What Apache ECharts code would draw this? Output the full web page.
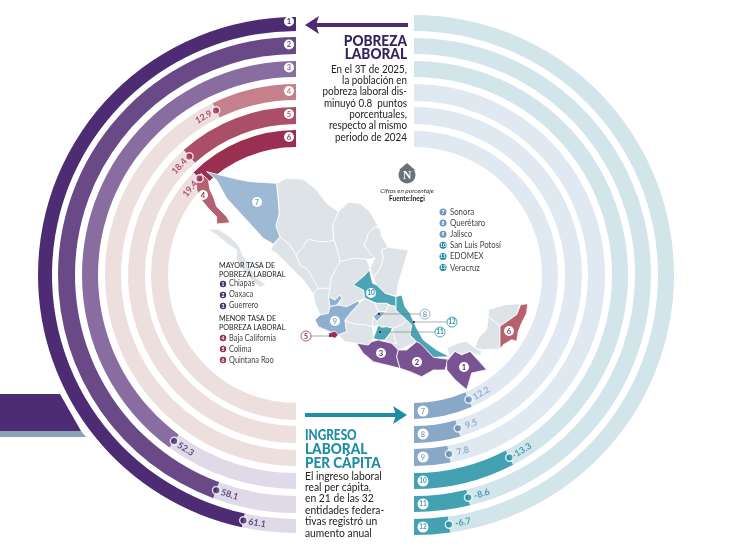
<!DOCTYPE html>
<html>
<head>
<meta charset="utf-8">
<title>Pobreza laboral</title>
<style>
html, body { margin: 0; padding: 0; background: #fff; }
#main { width: 750px; height: 546px; }
</style>
<script src="https://cdn.jsdelivr.net/npm/echarts@6/dist/echarts.min.js"></script>
</head>
<body>
<div id="main"></div>
<script>
// datos
var pobrezaRings = [1, 2, 3, 4, 5, 6];
var pobrezaValues = [61.1, 58.1, 52.3, 12.9, 18.4, 19.4];
var ingresoRings = [7, 8, 9, 10, 11, 12];
var ingresoValues = [12.2, 9.5, 7.8, -13.3, -8.6, -6.7];
var mayorEstados = ['Chiapas', 'Oaxaca', 'Guerrero'];
var menorEstados = ['Baja California', 'Colima', 'Quintana Roo'];
var ingresoEstados = ['Sonora', 'Querétaro', 'Jalisco', 'San Luis Potosí', 'EDOMEX', 'Veracruz'];
var pobrezaLines = ['En el 3T de 2025,', 'la población en', 'pobreza laboral dis-', 'minuyó 0.8  puntos', 'porcentuales,', 'respecto al mismo', 'periodo de 2024'];
var ingresoLines = ['El ingreso laboral', 'real per cápita,', 'en 21 de las 32', 'entidades federa-', 'tivas registró un', 'aumento anual'];

var FONT = 'Lato, "Open Sans", sans-serif';
var PURPLE = '#4d2c73', WINE = '#9a2f52', BLUE = '#6f97be', TEAL = '#1f8ea3', GRAY = '#dde3e7';

// cada anillo lleva su propia escala (valor que equivale a media vuelta)
var ringsLeft = {
  center: [296, 275], startAngle: 90,
  bands: [[244, 258], [221, 238], [198, 214], [175, 191], [151, 168], [128, 145]],
  halfMax: [65.5, 65.5, 65.5, 89.6, 78.9, 77.6],
  colors: ['#4d2c73', '#694a86', '#896da1', '#c5808c', '#ab4f68', '#9a2f52'],
  tracks: ['#e0d9e8', '#e0d9e8', '#e0d9e8', '#eedfdf', '#eedfdf', '#eedfdf'],
  dots: ['#3f2a6b', '#3f2a6b', '#3f2a6b', WINE, WINE, WINE],
  text: ['#3f2a6b', '#3f2a6b', '#3f2a6b', WINE, WINE, WINE]
};
var ringsRight = {
  center: [414, 275], startAngle: 270,
  bands: [[128, 144], [151, 168], [174, 191], [198, 214], [221, 237], [244, 260]],
  halfMax: [92.6, 106.9, 126.5, 86.7, 113, 150.7],
  colors: ['#89a7c7', '#89a7c7', '#89a7c7', '#43a1b2', '#43a1b2', '#43a1b2'],
  tracks: ['#e0e8f1', '#e0e8f1', '#e0e8f1', '#d2e5eb', '#d2e5eb', '#d2e5eb'],
  dots: ['#5f8bb5', '#5f8bb5', '#5f8bb5', TEAL, TEAL, TEAL],
  text: ['#7d9fc3', '#7d9fc3', '#7d9fc3', TEAL, TEAL, TEAL]
};

// contornos de los estados, trazados a mano sobre la imagen (x3, origen en 180,170)
var states = {
  'Baja California': [[57, 20], [63, 10], [85, 30], [90, 60], [100, 80], [110, 110], [140, 140], [150, 158], [110, 162], [110, 140], [85, 115], [65, 90], [50, 60], [50, 35]],
  'Baja California Sur': [[85, 178], [115, 178], [150, 200], [175, 225], [190, 260], [205, 280], [225, 320], [258, 345], [240, 352], [215, 330], [190, 300], [170, 270], [170, 240], [140, 220], [110, 195]],
  'Sonora': [[80, 5], [160, 25], [210, 35], [290, 40], [298, 130], [288, 168], [300, 200], [280, 222], [250, 205], [200, 150], [140, 85], [110, 30]],
  'Chihuahua': [[290, 40], [318, 25], [370, 28], [410, 60], [440, 100], [475, 125], [458, 165], [462, 210], [445, 215], [415, 215], [385, 208], [365, 235], [348, 255], [330, 225], [300, 200], [288, 168], [298, 130], [295, 80]],
  'Coahuila': [[475, 125], [505, 97], [540, 100], [570, 125], [595, 170], [585, 170], [565, 190], [560, 210], [552, 225], [570, 250], [585, 265], [560, 268], [525, 265], [500, 270], [480, 275], [472, 240], [462, 210], [458, 165]],
  'Nuevo León': [[585, 170], [600, 175], [605, 200], [625, 232], [605, 240], [610, 265], [600, 295], [580, 325], [570, 295], [585, 265], [570, 250], [552, 225], [560, 210], [565, 190]],
  'Tamaulipas': [[625, 232], [685, 240], [670, 290], [655, 340], [650, 378], [615, 370], [590, 345], [580, 325], [600, 295], [610, 265], [605, 240]],
  'Durango': [[348, 255], [365, 235], [385, 208], [415, 215], [445, 215], [462, 210], [472, 240], [480, 275], [465, 300], [452, 330], [450, 355], [415, 355], [400, 330], [385, 300], [360, 285]],
  'Sinaloa': [[300, 200], [330, 225], [348, 255], [360, 285], [385, 300], [415, 355], [400, 372], [370, 330], [330, 290], [290, 250], [272, 240], [280, 225]],
  'Zacatecas': [[480, 275], [500, 270], [525, 265], [560, 268], [570, 295], [568, 300], [555, 315], [520, 345], [550, 360], [555, 385], [538, 392], [500, 410], [475, 405], [485, 385], [480, 375], [465, 390], [445, 380], [450, 355], [452, 330], [465, 300]],
  'San Luis Potosí': [[568, 300], [555, 315], [520, 345], [550, 360], [555, 385], [590, 400], [620, 400], [635, 408], [648, 420], [648, 380], [615, 370], [590, 345], [578, 340]],
  'Aguascalientes': [[445, 380], [465, 390], [480, 375], [485, 385], [470, 405], [450, 410]],
  'Nayarit': [[400, 372], [415, 355], [450, 355], [445, 380], [450, 410], [445, 430], [420, 435], [405, 400]],
  'Jalisco': [[405, 450], [420, 435], [445, 430], [450, 410], [475, 405], [500, 410], [535, 392], [538, 400], [515, 425], [495, 450], [500, 485], [475, 495], [450, 485], [415, 470]],
  'Colima': [[445, 490], [465, 483], [475, 495], [465, 505], [450, 500]],
  'Michoacán': [[475, 495], [500, 485], [495, 450], [515, 460], [560, 465], [578, 470], [580, 505], [565, 525], [530, 520], [495, 515]],
  'Guanajuato': [[515, 425], [538, 400], [555, 385], [585, 400], [595, 425], [580, 440], [578, 470], [560, 465], [515, 460], [495, 450]],
  'Querétaro': [[580, 440], [595, 425], [618, 425], [600, 445], [590, 455]],
  'Tlaxcala': [[585, 400], [590, 400], [620, 400], [635, 408], [625, 405], [618, 425], [595, 425]],
  'Hidalgo': [[618, 425], [625, 405], [645, 408], [648, 420], [680, 450], [665, 465], [638, 475], [620, 470], [605, 472], [595, 465], [578, 470], [580, 440], [590, 455], [600, 445]],
  'México': [[580, 505], [595, 465], [605, 472], [620, 470], [638, 475], [630, 490], [615, 510], [595, 510]],
  'Morelos': [[615, 510], [630, 490], [638, 475], [640, 490], [650, 520], [635, 520], [615, 515]],
  'Puebla': [[680, 450], [695, 465], [690, 495], [710, 515], [670, 535], [655, 540], [635, 520], [650, 520], [640, 490], [638, 475], [665, 465]],
  'Veracruz': [[648, 380], [665, 375], [675, 410], [690, 430], [710, 475], [730, 510], [770, 540], [810, 560], [760, 562], [735, 535], [710, 515], [690, 495], [695, 465], [680, 450], [648, 420]],
  'Guerrero': [[530, 520], [565, 525], [575, 515], [595, 510], [615, 515], [635, 520], [655, 540], [650, 560], [660, 595], [620, 585], [580, 575], [550, 550]],
  'Oaxaca': [[655, 540], [680, 540], [710, 515], [720, 520], [735, 535], [760, 562], [805, 568], [795, 600], [760, 600], [725, 620], [690, 605], [660, 595], [650, 560]],
  'Chiapas': [[800, 574], [825, 544], [845, 554], [870, 544], [920, 599], [875, 609], [860, 659], [825, 629], [800, 599]],
  'Tabasco': [[800, 534], [835, 519], [860, 514], [885, 534], [905, 544], [900, 559], [870, 544], [845, 554], [825, 544], [810, 559]],
  'Campeche': [[925, 439], [960, 469], [960, 537], [905, 539], [885, 534], [895, 504], [920, 479]],
  'Yucatán': [[925, 419], [975, 404], [1020, 401], [1010, 434], [960, 469], [925, 439]],
  'Quintana Roo': [[1022, 404], [1043, 401], [1040, 429], [1025, 459], [1015, 484], [1010, 514], [995, 509], [970, 524], [960, 537], [960, 469], [1010, 434]]
};
var stateColors = {
  'Baja California': '#b5616f', 'Quintana Roo': '#b5616f', 'Colima': '#9a2f52',
  'Sonora': '#9db9d4', 'Jalisco': '#8fafd0', 'Querétaro': '#8fafd0', 'Aguascalientes': '#8fafd0',
  'San Luis Potosí': '#4ba5b5', 'México': '#4ba5b5', 'Veracruz': '#4ba5b5',
  'Guerrero': '#7a5492', 'Oaxaca': '#7a5492', 'Chiapas': '#7a5492'
};

function buildMap() {
  var features = Object.keys(states).map(function(name) {
    var ring = states[name].concat([states[name][0]]);
    return { type: 'Feature', properties: { name: name }, geometry: { type: 'Polygon', coordinates: [ring] } };
  });
  echarts.registerMap('mexico', { type: 'FeatureCollection', features: features });
}

var polar = [], angleAxis = [], radiusAxis = [], series = [];

function addRing(side, i, value) {
  var idx = polar.length;
  var band = side.bands[i];
  var half = side.halfMax[i];
  var size = Math.abs(value);
  var mid = (band[0] + band[1]) / 2;
  polar.push({ center: side.center, radius: band });
  angleAxis.push({ polarIndex: idx, type: 'value', min: 0, max: half * 2, startAngle: side.startAngle, clockwise: false, show: false });
  radiusAxis.push({ polarIndex: idx, type: 'category', data: ['r'], show: false });
  var common = { coordinateSystem: 'polar', polarIndex: idx, silent: true, animation: false };
  series.push(Object.assign({ type: 'bar', stack: 's' + idx, barWidth: '100%', data: [size], itemStyle: { color: side.colors[i] } }, common));
  series.push(Object.assign({ type: 'bar', stack: 's' + idx, barWidth: '100%', data: [half - size], itemStyle: { color: side.tracks[i] } }, common));
  series.push(Object.assign({
    type: 'scatter', z: 6, data: [[0, size]], symbolSize: 7.5,
    itemStyle: { color: side.dots[i], borderColor: '#fff', borderWidth: 1.5 }
  }, common));
  // la etiqueta va unos 14 px de arco mas alla del punto
  var labelValue = size + (14 / mid) * (180 / Math.PI) * half / 180;
  var deg = labelValue / half * 180;
  var rotate = side.startAngle === 90 ? (deg < 90 ? deg : deg - 180) : deg;
  series.push(Object.assign({
    type: 'scatter', z: 7, data: [[0, labelValue]], symbolSize: 1,
    itemStyle: { color: 'transparent' },
    label: {
      show: true, position: 'inside', rotate: rotate, formatter: String(value),
      color: side.text[i], fontFamily: FONT, fontSize: 9, fontWeight: 'bold'
    }
  }, common));
}

pobrezaValues.forEach(function(v, i) { addRing(ringsLeft, i, v); });
ingresoValues.forEach(function(v, i) { addRing(ringsRight, i, v); });

// textos y detalles sobre el grafico
var graphics = [];
function text(x, y, str, font, fill, align, sx) {
  graphics.push({ type: 'text', x: x, y: y, scaleX: sx || 1, z: 20, style: { text: str, font: font, fill: fill, align: align || 'left', verticalAlign: 'middle' } });
}
function circle(x, y, r, fill, stroke, lw) {
  graphics.push({ type: 'circle', z: 19, shape: { cx: x, cy: y, r: r }, style: { fill: fill, stroke: stroke || null, lineWidth: lw || 0 } });
}
function badge(x, y, n, fill, color, r, size, stroke) {
  circle(x, y, r, fill, stroke, stroke ? 0.8 : 0);
  text(x, y + 0.3, String(n), 'bold ' + size + 'px ' + FONT, color, 'center');
}
function poly(points, fill) {
  graphics.push({ type: 'polygon', z: 18, shape: { points: points }, style: { fill: fill } });
}
function rule(x1, y, x2, color, lw) {
  graphics.push({ type: 'line', z: 18, shape: { x1: x1, y1: y, x2: x2, y2: y }, style: { stroke: color, lineWidth: lw } });
}

// bloque morado a la izquierda
poly([[0, 394], [60, 394], [81, 431], [0, 431]], PURPLE);
poly([[0, 431], [81, 431], [86, 437], [0, 437]], '#8ba3b5');

// flechas
rule(316, 25, 408, PURPLE, 4);
poly([[305, 25], [319, 16], [316, 25], [319, 34]], PURPLE);
rule(305, 415, 396, TEAL, 4);
poly([[407, 415], [393, 406], [396, 415], [393, 424]], TEAL);

// numeros de inicio de cada anillo
var leftBadgeY = [21.5, 44.5, 67.5, 91, 114, 137];
pobrezaRings.forEach(function(n, i) {
  badge(289, leftBadgeY[i], n, '#fff', ringsLeft.colors[i], 5, 7.5);
});
var rightBadgeY = [411, 434, 457, 481, 504, 527];
ingresoRings.forEach(function(n, i) {
  badge(423, rightBadgeY[i], n, '#fff', ringsRight.colors[i], 5.5, n > 9 ? 6.5 : 7.5);
});

// titulos
text(407, 41, 'POBREZA', '900 14.5px ' + FONT, '#35225f', 'right', 0.94);
text(407, 54.5, 'LABORAL', '900 14.5px ' + FONT, '#35225f', 'right', 0.94);
pobrezaLines.forEach(function(s, i) {
  text(407, 69 + i * 11.35, s, '11.2px ' + FONT, '#222', 'right', 0.88);
});
text(305, 435, 'INGRESO', '900 15.5px ' + FONT, TEAL, 'left', 0.76);
text(305, 449, 'LABORAL', '900 15.5px ' + FONT, TEAL, 'left', 0.88);
text(305, 462.5, 'PER CÁPITA', '900 15.5px ' + FONT, TEAL, 'left', 0.87);
ingresoLines.forEach(function(s, i) {
  text(305, 476 + i * 11.4, s, '11.2px ' + FONT, '#222', 'left', 0.92);
});

// logo y fuente
poly([[407, 163], [415, 170], [399, 170]], '#6b7277');
circle(407, 175, 8.5, '#6b7277');
text(407, 175.5, 'N', 'bold 12px "Liberation Serif"', '#fff', 'center');
text(407, 191, 'Cifras en porcentaje', 'italic 6.5px ' + FONT, '#333', 'center');
text(407, 199, 'Fuente:Inegi', 'bold 6.5px ' + FONT, '#222', 'center');

// leyendas
ingresoEstados.forEach(function(s, i) {
  badge(443, 212 + i * 11.1, ingresoRings[i], i < 3 ? BLUE : TEAL, '#fff', 3.5, 5);
  text(450, 212 + i * 11.1, s, '9.5px ' + FONT, '#444', 'left', 0.82);
});
text(219, 266, 'MAYOR TASA DE', '7.2px ' + FONT, '#222');
text(219, 274.5, 'POBREZA LABORAL', '7.2px ' + FONT, '#222');
mayorEstados.forEach(function(s, i) {
  var y = [284, 295, 306][i];
  badge(223, y, pobrezaRings[i], PURPLE, '#fff', 3.2, 5);
  text(229, y - 1, s, '9.5px ' + FONT, '#444', 'left', 0.78);
});
text(219, 319, 'MENOR TASA DE', '7.2px ' + FONT, '#222');
text(219, 328, 'POBREZA LABORAL', '7.2px ' + FONT, '#222');
menorEstados.forEach(function(s, i) {
  var y = [338, 349, 360][i];
  badge(223, y, pobrezaRings[i + 3], WINE, '#fff', 3.2, 5);
  text(229, y, s, '9.5px ' + FONT, '#444', 'left', 0.78);
});

// numeros sobre el mapa
[[464, 367, 1, PURPLE], [417, 362, 2, PURPLE], [381, 353, 3, PURPLE], [203, 195, 4, WINE], [509, 331, 6, WINE],
 [257, 202, 7, '#7d9fc3'], [335, 321, 9, '#7d9fc3'], [371, 293, 10, TEAL]].forEach(function(m) {
  badge(m[0], m[1], m[2], '#fff', m[3], 5, m[2] > 9 ? 6.5 : 7.5);
});
// llamadas con linea
[[306, 336, 330, 5, WINE], [425, 314, 379, 8, '#7d9fc3'], [452, 322, 414, 12, TEAL], [440, 332, 380, 11, TEAL]].forEach(function(m) {
  var from = Math.min(m[0], m[2]) === m[0] ? m[0] + 5 : m[2];
  var to = Math.min(m[0], m[2]) === m[0] ? m[2] : m[0] - 5;
  rule(from, m[1], to, '#777', 0.6);
  circle(m[2], m[1], 1, '#222');
  badge(m[0], m[1], m[3], '#fff', m[4], 5, m[3] > 9 ? 6.5 : 7.5, m[4]);
});

buildMap();

var chart = echarts.init(document.getElementById('main'), null, { renderer: 'canvas' });
chart.setOption({
  animation: false,
  backgroundColor: '#fff',
  polar: polar,
  angleAxis: angleAxis,
  radiusAxis: radiusAxis,
  geo: {
    map: 'mexico',
    z: 4,
    silent: true,
    roam: false,
    projection: {
      project: function(p) { return [p[0], p[1]]; },
      unproject: function(p) { return [p[0], p[1]]; }
    },
    boundingCoords: [[-540, -510], [1710, 1128]],
    layoutCenter: ['50%', '50%'],
    layoutSize: 750,
    label: { show: false },
    itemStyle: { areaColor: GRAY, borderColor: '#fff', borderWidth: 0.8 },
    regions: Object.keys(stateColors).map(function(name) {
      return { name: name, itemStyle: { areaColor: stateColors[name] } };
    })
  },
  series: series,
  graphic: graphics
});
</script>
</body>
</html>
